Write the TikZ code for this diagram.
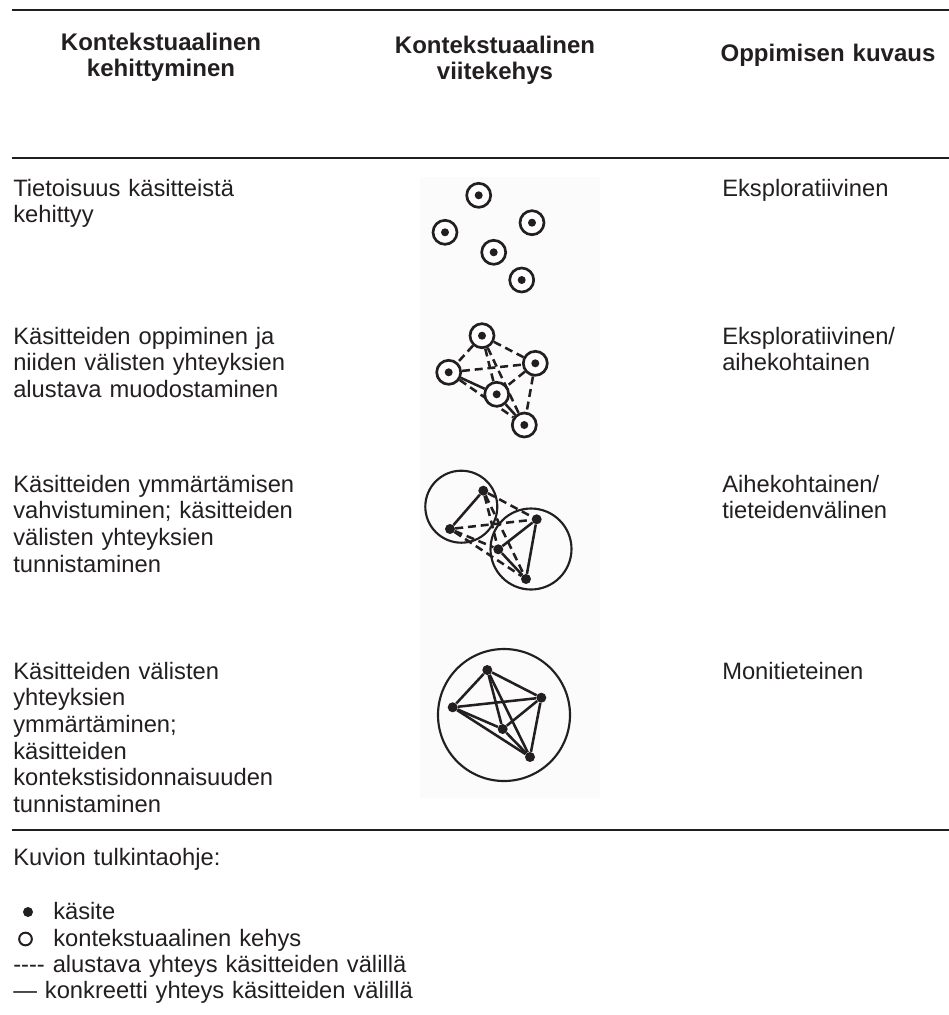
\documentclass[tikz,border=0pt]{standalone}
\usepackage{fontspec}
\setmainfont{Liberation Sans}
\usetikzlibrary{backgrounds}
\definecolor{ink}{HTML}{231F20}
\begin{document}
\begin{tikzpicture}[x=0.75pt,y=-0.75pt,
  every node/.style={text=ink},
  rulebar/.style={line width=2pt, draw=ink},
  headtext/.style={inner sep=0pt, anchor=base, text width=200pt, align=center,
    font=\fontsize{18pt}{19.5pt}\selectfont\bfseries},
  bodytext/.style={inner sep=0pt, anchor=base west, text width=400pt, align=left,
    font=\fontsize{17.8pt}{20pt}\selectfont},
  target/.style={circle, draw=ink, line width=2pt, fill=white, minimum size=18pt,
    inner sep=0pt, path picture={\fill[ink] (path picture bounding box.center) circle (3pt);}},
  concept/.style={circle, fill=ink, inner sep=0pt, minimum size=7.5pt},
  frame/.style={circle, draw=ink, line width=1.6pt, inner sep=0pt},
  link/.style={line width=1.9pt, draw=ink},
  tentative/.style={link, dash pattern=on 6pt off 3.6pt},
]
\useasboundingbox (0,0) rectangle (949,1015);

% horizontal rules
\coordinate (r1l) at (12,10);  \coordinate (r1r) at (949,10);
\coordinate (r2l) at (12,158); \coordinate (r2r) at (949,158);
\coordinate (r3l) at (12,830); \coordinate (r3r) at (949,830);
\draw[rulebar] (r1l) -- (r1r);
\draw[rulebar] (r2l) -- (r2r);
\draw[rulebar] (r3l) -- (r3r);

% column headings
\node[headtext] (h1) at (161,50) {Kontekstuaalinen\\kehittyminen};
\node[headtext] (h2) at (495,53) {Kontekstuaalinen\\viitekehys};
\node[headtext] (h3) at (828,61) {Oppimisen kuvaus};

% first column
\node[bodytext] (a1) at (13,196) {Tietoisuus käsitteistä\\kehittyy};
\node[bodytext] (a2) at (13,344) {Käsitteiden oppiminen ja\\niiden välisten yhteyksien\\alustava muodostaminen};
\node[bodytext] (a3) at (13,492) {Käsitteiden ymmärtämisen\\vahvistuminen; käsitteiden\\välisten yhteyksien\\tunnistaminen};
\node[bodytext] (a4) at (13,679) {Käsitteiden välisten\\yhteyksien\\ymmärtäminen;\\käsitteiden\\kontekstisidonnaisuuden\\tunnistaminen};

% third column
\node[bodytext, text width=220pt] (c1) at (722,196) {Eksploratiivinen};
\node[bodytext, text width=220pt] (c2) at (722,344) {Eksploratiivinen/\\aihekohtainen};
\node[bodytext, text width=220pt] (c3) at (722,492) {Aihekohtainen/\\tieteidenvälinen};
\node[bodytext, text width=220pt] (c4) at (722,679) {Monitieteinen};

% legend
\node[bodytext] (key) at (13,865) {Kuvion tulkintaohje:};
\node[concept, minimum size=7.5pt] (kdot) at (28,912) {};
\node[circle, draw=ink, line width=1.5pt, minimum size=9.5pt, inner sep=0pt] (kring) at (25.5,939) {};
\node[bodytext] (k1) at (53,919) {käsite};
\node[bodytext] (k2) at (53,946) {kontekstuaalinen kehys};
\node[bodytext] (k3) at (13,972) {-{}-{}-{}- alustava yhteys käsitteiden välillä};
\node[bodytext] (k4) at (13,998) {— konkreetti yhteys käsitteiden välillä};

% stage 1: separate concepts
\node[target] (s1a) at (478.7,195.3) {};
\node[target] (s1b) at (532,222.7) {};
\node[target] (s1c) at (445,232.3) {};
\node[target] (s1d) at (493.7,252.3) {};
\node[target] (s1e) at (521.7,280) {};

% stage 2: first tentative links
\node[target] (s2a) at (482,335.7) {};
\node[target] (s2b) at (448.7,372.3) {};
\node[target] (s2c) at (535.3,363.3) {};
\node[target] (s2d) at (496.7,394.3) {};
\node[target] (s2e) at (524.3,425) {};

% stage 3: two overlapping frames
\node[frame, minimum size=54pt] (f3a) at (461.3,506.7) {};
\node[frame, minimum size=60.75pt] (f3b) at (531,549) {};
\node[concept] (s3a) at (483.3,490.7) {};
\node[concept] (s3b) at (450,529) {};
\node[concept] (s3c) at (536.7,519.3) {};
\node[concept] (s3d) at (498.3,549.3) {};
\node[concept] (s3e) at (526,579) {};

% stage 4: one common frame
\node[frame, minimum size=99pt] (f4) at (504,715) {};
\node[concept] (s4a) at (487.3,670) {};
\node[concept] (s4b) at (452.7,707.3) {};
\node[concept] (s4c) at (541.3,697.7) {};
\node[concept] (s4d) at (502.7,729) {};
\node[concept] (s4e) at (530,757) {};

\begin{pgfonlayer}{background}
  \fill[black!1.5] (420,177) rectangle (600,798);
  % stage 2 links
  \draw[tentative] (s2a) -- (s2b);
  \draw[tentative] (s2a) -- (s2c);
  \draw[tentative] (s2a) -- (s2d);
  \draw[tentative] (s2a) -- (s2e);
  \draw[tentative] (s2b) -- (s2c);
  \draw[link]      (s2b) -- (s2d);
  \draw[tentative] (s2b) -- (s2e);
  \draw[tentative] (s2c) -- (s2d);
  \draw[tentative] (s2c) -- (s2e);
  \draw[link]      (s2d) -- (s2e);
  % stage 3 links
  \draw[link]      (s3a) -- (s3b);
  \draw[tentative] (s3a) -- (s3c);
  \draw[tentative] (s3a) -- (s3d);
  \draw[tentative] (s3a) -- (s3e);
  \draw[tentative] (s3b) -- (s3c);
  \draw[tentative] (s3b) -- (s3d);
  \draw[tentative] (s3b) -- (s3e);
  \draw[link]      (s3c) -- (s3d);
  \draw[link]      (s3c) -- (s3e);
  \draw[link]      (s3d) -- (s3e);
  % stage 4 links
  \draw[link] (s4a) -- (s4b);
  \draw[link] (s4a) -- (s4c);
  \draw[link] (s4a) -- (s4d);
  \draw[link] (s4a) -- (s4e);
  \draw[link] (s4b) -- (s4c);
  \draw[link] (s4b) -- (s4d);
  \draw[link] (s4b) -- (s4e);
  \draw[link] (s4c) -- (s4d);
  \draw[link] (s4c) -- (s4e);
  \draw[link] (s4d) -- (s4e);
\end{pgfonlayer}
\end{tikzpicture}
\end{document}
